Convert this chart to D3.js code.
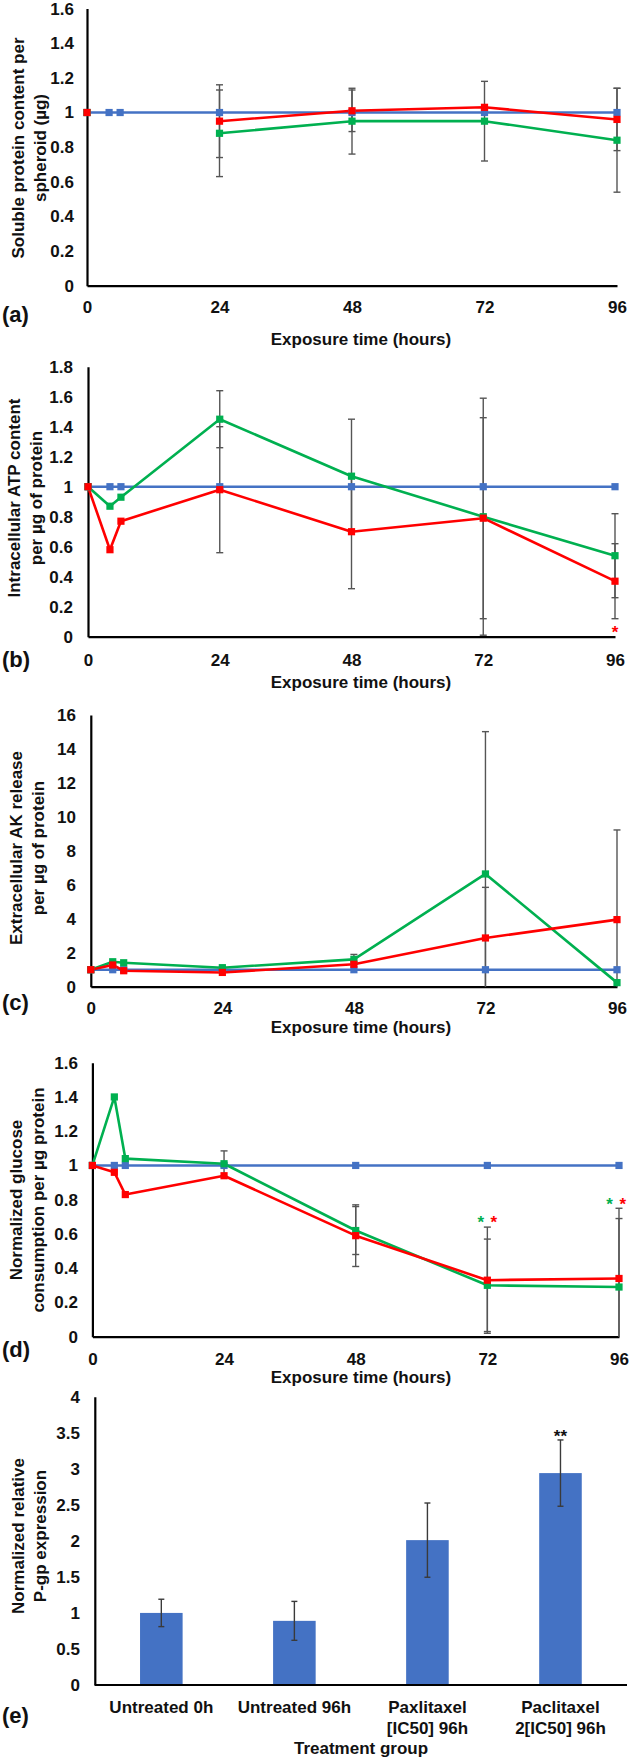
<!DOCTYPE html>
<html><head><meta charset="utf-8">
<script src="https://cdn.jsdelivr.net/npm/d3@7"></script>
<style>
body{margin:0;background:#fff}
svg{display:block}
text{font-family:"Liberation Sans",Arial,Helvetica,sans-serif;font-weight:bold;fill:#111}
</style>
</head><body>
<svg id="chart" width="630" height="1758"></svg>
<script>
// ---------------- DATA ----------------
const hours = [0, 4, 6, 24, 48, 72, 96];
const hourTicks = [0, 24, 48, 72, 96];

// (a) soluble protein content
const blueA  = [1, 1, 1, 1, 1, 1, 1];
const greenA = [1, null, null, 0.88, 0.95, 0.95, 0.84];
const redA   = [1, null, null, 0.95, 1.01, 1.03, 0.96];
const errGreenA = [0, 0, 0, 0.25, 0.19, 0.23, 0.30];
const errRedA   = [0, 0, 0, 0.21, 0.12, 0, 0.18];
const yTicksA = [0, 0.2, 0.4, 0.6, 0.8, 1, 1.2, 1.4, 1.6];

// (b) intracellular ATP
const blueB  = [1, 1, 1, 1, 1, 1, 1];
const greenB = [1, 0.87, 0.93, 1.45, 1.07, 0.80, 0.54];
const redB   = [1, 0.58, 0.77, 0.98, 0.70, 0.79, 0.37];
const errGreenB = [0, 0, 0, 0.19, 0.38, 0.79, 0.28];
const errRedB   = [0, 0, 0, 0.42, 0.38, 0.67, 0.25];
const yTicksB = [0, 0.2, 0.4, 0.6, 0.8, 1, 1.2, 1.4, 1.6, 1.8];
const starsB = [{h: 96, v: 0.06, color: "red"}];

// (c) extracellular AK release
const blueC  = [1, 1, 1, 1, 1, 1, 1];
const greenC = [1, 1.47, 1.41, 1.12, 1.61, 6.64, 0.24];
const redC   = [1, 1.28, 0.94, 0.84, 1.32, 2.87, 3.95];
const errGreenC = [0, 0, 0, 0, 0.29, 8.38, 0];
const errRedC   = [0, 0, 0, 0, 0, 2.98, 5.28];
const yTicksC = [0, 2, 4, 6, 8, 10, 12, 14, 16];

// (d) glucose consumption
const blueD  = [1, 1, 1, 1, 1, 1, 1];
const greenD = [1, 1.40, 1.04, 1.01, 0.62, 0.30, 0.29];
const redD   = [1, 0.96, 0.83, 0.94, 0.59, 0.33, 0.34];
const errGreenD = [0, 0, 0, 0.075, 0.14, 0.27, 0.40];
const errRedD   = [0, 0, 0, 0, 0.18, 0.31, 0.41];
const yTicksD = [0, 0.2, 0.4, 0.6, 0.8, 1, 1.2, 1.4, 1.6];
const starsD = [
  {h: 70.8, v: 0.695, color: "green"}, {h: 73.2, v: 0.695, color: "red"},
  {h: 94.3, v: 0.80, color: "green"}, {h: 96.7, v: 0.80, color: "red"}
];

// (e) P-gp expression
const groups = ["Untreated 0h", "Untreated 96h", "Paxlitaxel [IC50] 96h", "Paclitaxel 2[IC50] 96h"];
const groupLabelLines = [["Untreated 0h"], ["Untreated 96h"], ["Paxlitaxel", "[IC50] 96h"], ["Paclitaxel", "2[IC50] 96h"]];
const pgpValues = [1.0, 0.89, 2.01, 2.94];
const pgpErrors = [0.19, 0.27, 0.515, 0.46];
const yTicksE = [0, 0.5, 1, 1.5, 2, 2.5, 3, 3.5, 4];
const pgpMarks = ["", "", "", "**"];

// ---------------- STYLE ----------------
const COLORS = {blue: "#4472C4", green: "#00B050", red: "#FF0000"};
const ERR = "#555555";
const FS = 17;

const svg = d3.select("#chart");

function styleAxis(g) {
  g.select(".domain").attr("stroke", "#000").attr("stroke-width", 2.2);
  g.selectAll(".tick line").remove();
  g.selectAll("text").attr("font-size", FS).attr("font-family", null).attr("fill", "#111");
}

function axisTitles(cfg, yLines) {
  yLines.forEach((t, i) => {
    svg.append("text")
      .attr("transform", `translate(${cfg.yTitleX[i] + 6},${cfg.yTitleY}) rotate(-90)`)
      .attr("text-anchor", "middle").attr("font-size", FS).text(t);
  });
  svg.append("text").attr("x", 361).attr("y", cfg.titleY + 6)
    .attr("text-anchor", "middle").attr("font-size", FS).text(cfg.xTitle);
  svg.append("text").attr("x", 2).attr("y", cfg.tagY + 5)
    .attr("font-family", '"Liberation Serif","Times New Roman",serif')
    .attr("font-size", 22).attr("font-weight", "bold").text(cfg.tag);
}

function linePanel(cfg) {
  const x = d3.scaleLinear().domain([0, 96]).range([cfg.left, cfg.right]);
  const yMax = cfg.yTicks[cfg.yTicks.length - 1];
  const y = d3.scaleLinear().domain([0, yMax]).range([cfg.bottom, cfg.top]);

  const gx = svg.append("g").attr("transform", `translate(0,${cfg.bottom})`)
    .call(d3.axisBottom(x).tickValues(hourTicks).tickSizeOuter(0).tickSize(0));
  styleAxis(gx);
  gx.selectAll("text").attr("dy", "0.35em").attr("y", cfg.tickY - cfg.bottom);

  const gy = svg.append("g").attr("transform", `translate(${cfg.left},0)`)
    .call(d3.axisLeft(y).tickValues(cfg.yTicks).tickSizeOuter(0).tickSize(0)
      .tickPadding(cfg.left - cfg.yLabelRight).tickFormat(d => String(d)));
  styleAxis(gy);

  const line = d3.line().defined(d => d.v != null).x(d => x(d.h)).y(d => y(d.v));
  const plot = svg.append("g");

  const series = cfg.series.map(s => ({
    color: s.color,
    pts: hours.map((h, i) => ({h, v: s.values[i], e: s.errors ? s.errors[i] : 0}))
  }));

  series.forEach(s => {
    plot.append("path").datum(s.pts).attr("d", line)
      .attr("fill", "none").attr("stroke", COLORS[s.color])
      .attr("stroke-width", 2.6).attr("stroke-linejoin", "round");
  });
  series.forEach(s => {
    const eb = s.pts.filter(d => d.v != null && d.e > 0);
    eb.forEach(d => {
      const hi = Math.min(d.v + d.e, yMax), lo = Math.max(d.v - d.e, 0);
      const g = plot.append("g").attr("stroke", ERR).attr("stroke-width", 1.4);
      g.append("line").attr("x1", x(d.h)).attr("x2", x(d.h)).attr("y1", y(hi)).attr("y2", y(lo));
      if (d.v + d.e <= yMax) g.append("line").attr("x1", x(d.h) - 3.5).attr("x2", x(d.h) + 3.5).attr("y1", y(hi)).attr("y2", y(hi));
      if (d.v - d.e >= 0) g.append("line").attr("x1", x(d.h) - 3.5).attr("x2", x(d.h) + 3.5).attr("y1", y(lo)).attr("y2", y(lo));
    });
  });
  series.forEach(s => {
    plot.selectAll(null).data(s.pts.filter(d => d.v != null)).enter().append("rect")
      .attr("x", d => x(d.h) - 3.6).attr("y", d => y(d.v) - 3.6)
      .attr("width", 7.2).attr("height", 7.2).attr("fill", COLORS[s.color]);
  });
  (cfg.stars || []).forEach(st => {
    svg.append("text").attr("x", x(st.h)).attr("y", y(st.v) + 10)
      .attr("text-anchor", "middle").attr("font-size", FS)
      .style("fill", COLORS[st.color]).text("*");
  });
  axisTitles(cfg, cfg.yTitle);
}

const common = {xTitle: "Exposure time (hours)"};

linePanel(Object.assign({}, common, {
  left: 87, right: 617, top: 8.6, bottom: 285.7, yLabelRight: 74, tickY: 307,
  titleY: 339, tagY: 317, yTitleX: [18, 40], yTitleY: 148, tag: "(a)",
  yTicks: yTicksA, yTitle: ["Soluble protein content per", "spheroid (µg)"],
  series: [
    {values: blueA, color: "blue"},
    {values: greenA, errors: errGreenA, color: "green"},
    {values: redA, errors: errRedA, color: "red"}
  ]
}));

linePanel(Object.assign({}, common, {
  left: 88, right: 615, top: 366.7, bottom: 636.7, yLabelRight: 73, tickY: 660,
  titleY: 682, tagY: 662, yTitleX: [14, 36], yTitleY: 498, tag: "(b)",
  yTicks: yTicksB, yTitle: ["Intracellular ATP content", "per µg of protein"],
  series: [
    {values: blueB, color: "blue"},
    {values: greenB, errors: errGreenB, color: "green"},
    {values: redB, errors: errRedB, color: "red"}
  ],
  stars: starsB
}));

linePanel(Object.assign({}, common, {
  left: 90.8, right: 617, top: 715, bottom: 986.7, yLabelRight: 76, tickY: 1008,
  titleY: 1027, tagY: 1005, yTitleX: [16, 38], yTitleY: 848, tag: "(c)",
  yTicks: yTicksC, yTitle: ["Extracellular AK release", "per µg of protein"],
  series: [
    {values: blueC, color: "blue"},
    {values: greenC, errors: errGreenC, color: "green"},
    {values: redC, errors: errRedC, color: "red"}
  ]
}));

linePanel(Object.assign({}, common, {
  left: 92.4, right: 619, top: 1062.7, bottom: 1336.7, yLabelRight: 78, tickY: 1359,
  titleY: 1377, tagY: 1352, yTitleX: [16, 38], yTitleY: 1200, tag: "(d)",
  yTicks: yTicksD, yTitle: ["Normalized glucose", "consumption per µg protein"],
  series: [
    {values: blueD, color: "blue"},
    {values: greenD, errors: errGreenD, color: "green"},
    {values: redD, errors: errRedD, color: "red"}
  ],
  stars: starsD
}));

// ---------------- (e) bar chart ----------------
(function barPanel() {
  const cfg = {left: 94.8, right: 627, top: 1396.7, bottom: 1685, yLabelRight: 80,
    tickY: 1706.7, titleY: 1748, tagY: 1718, yTitleX: [18, 40], yTitleY: 1536,
    tag: "(e)", xTitle: "Treatment group"};
  const x = d3.scaleBand().domain(groups).range([cfg.left, cfg.right])
    .paddingInner(0.68).paddingOuter(0.34);
  const yMax = yTicksE[yTicksE.length - 1];
  const y = d3.scaleLinear().domain([0, yMax]).range([cfg.bottom, cfg.top]);

  svg.append("g").selectAll("rect").data(groups).enter().append("rect")
    .attr("x", d => x(d)).attr("width", x.bandwidth())
    .attr("y", (d, i) => y(pgpValues[i])).attr("height", (d, i) => cfg.bottom - y(pgpValues[i]))
    .attr("fill", COLORS.blue);

  groups.forEach((gname, i) => {
    const cx = x(gname) + x.bandwidth() / 2;
    const hi = pgpValues[i] + pgpErrors[i], lo = pgpValues[i] - pgpErrors[i];
    const g = svg.append("g").attr("stroke", "#3a3a3a").attr("stroke-width", 1.4);
    g.append("line").attr("x1", cx).attr("x2", cx).attr("y1", y(hi)).attr("y2", y(lo));
    [hi, lo].forEach(v => g.append("line").attr("x1", cx - 3).attr("x2", cx + 3).attr("y1", y(v)).attr("y2", y(v)));
    if (pgpMarks[i]) {
      svg.append("text").attr("x", cx).attr("y", y(3.51) + 10)
        .attr("text-anchor", "middle").attr("font-size", FS).text(pgpMarks[i]);
    }
  });

  const gx = svg.append("g").attr("transform", `translate(0,${cfg.bottom})`)
    .call(d3.axisBottom(x).tickSize(0).tickSizeOuter(0));
  styleAxis(gx);
  gx.selectAll(".tick text").each(function(d, i) {
    const t = d3.select(this).text(null).attr("y", null).attr("dy", null);
    groupLabelLines[i].forEach((ln, k) => {
      t.append("tspan").attr("x", 0).attr("y", cfg.tickY - cfg.bottom + 6 + k * 21.5).text(ln);
    });
  });
  gx.select(".domain").attr("d", `M${cfg.left},0H${cfg.right}`);

  const gy = svg.append("g").attr("transform", `translate(${cfg.left},0)`)
    .call(d3.axisLeft(y).tickValues(yTicksE).tickSize(0).tickSizeOuter(0)
      .tickPadding(cfg.left - cfg.yLabelRight).tickFormat(d => String(d)));
  styleAxis(gy);

  axisTitles(cfg, ["Normalized relative", "P-gp expression"]);
})();
</script>
</body></html>
